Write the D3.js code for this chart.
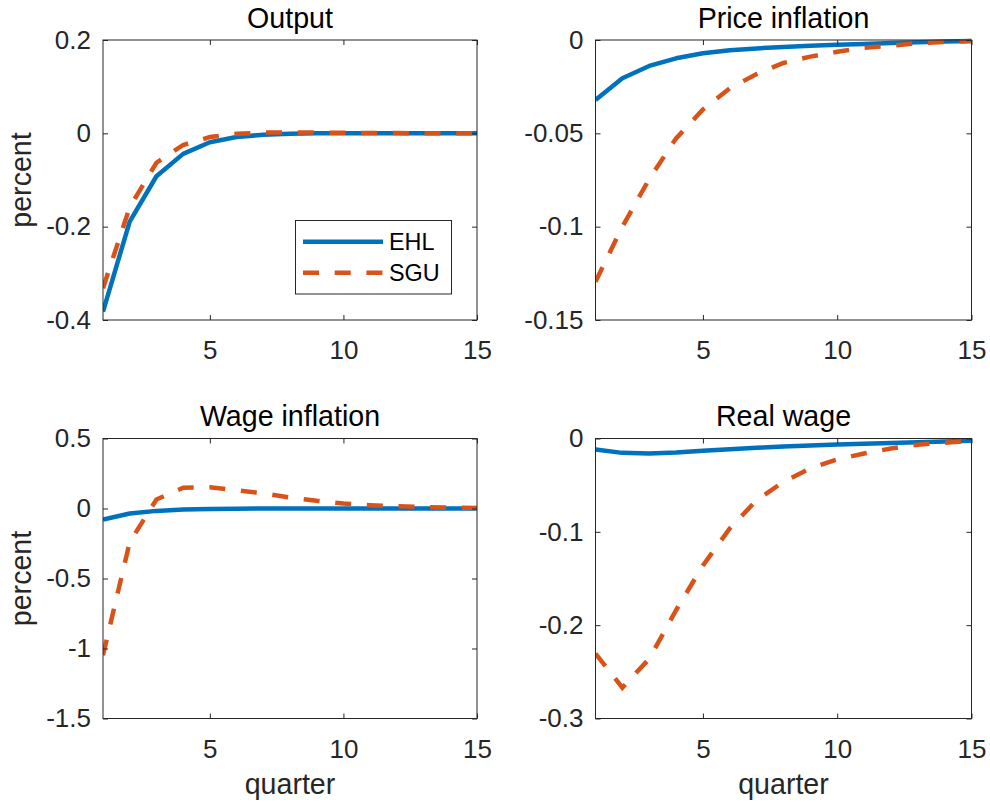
<!DOCTYPE html>
<html><head><meta charset="utf-8">
<script src="https://cdn.jsdelivr.net/npm/d3@7"></script>
<style>body{margin:0;background:#fff}svg{display:block}text{font-family:"Liberation Sans",Arial,Helvetica,sans-serif}</style>
</head><body>
<svg id="c" width="990" height="805"></svg>
<script>
const quarters = [1,2,3,4,5,6,7,8,9,10,11,12,13,14,15];
const seriesNames = ["EHL","SGU"];
const panelTitles = ["Output","Price inflation","Wage inflation","Real wage"];
const xTicks = [5,10,15];
const yTicksOutput = [-0.4,-0.2,0,0.2];
const yTicksPrice = [-0.15,-0.1,-0.05,0];
const yTicksWage = [-1.5,-1,-0.5,0,0.5];
const yTicksReal = [-0.3,-0.2,-0.1,0];

const outputEHL = [-0.382,-0.189,-0.092,-0.044,-0.019,-0.008,-0.003,-0.001,0,0,0,0,0,0,0];
const outputSGU = [-0.332,-0.158,-0.063,-0.025,-0.008,-0.001,0.0015,0.002,0.0015,0.001,0.0008,0.0005,0.0003,0.0002,0.0001];
const priceEHL = [-0.0321,-0.0205,-0.0139,-0.0098,-0.0071,-0.0055,-0.0045,-0.0037,-0.0031,-0.0026,-0.0021,-0.0016,-0.0012,-0.0008,-0.0005];
const priceSGU = [-0.1295,-0.1000,-0.0745,-0.0527,-0.0372,-0.0259,-0.0182,-0.0123,-0.0089,-0.0063,-0.0042,-0.0030,-0.0018,-0.0011,-0.0005];
const wageEHL = [-0.079,-0.036,-0.017,-0.007,-0.003,-0.001,0,0,0,0,0,0,0,0,0];
const wageSGU = [-1.048,-0.24,0.064,0.148,0.152,0.131,0.107,0.079,0.055,0.036,0.024,0.016,0.010,0.006,0.004];
const realEHL = [-0.0118,-0.0154,-0.0161,-0.0150,-0.0132,-0.0115,-0.0100,-0.0087,-0.0075,-0.0064,-0.0056,-0.0047,-0.0040,-0.0032,-0.0025];
const realSGU = [-0.2304,-0.267,-0.236,-0.184,-0.136,-0.0964,-0.066,-0.0464,-0.032,-0.0225,-0.016,-0.0107,-0.0066,-0.0046,-0.0025];

const colors = ["#0072BD","#D95319"];
const axisColor = "#262626";
const tickFont = 26, labelFont = 28.6, legendFont = 23.4;

const panels = [
  {title:panelTitles[0], ehl:outputEHL, sgu:outputSGU, domain:[-0.4,0.2], ticks:yTicksOutput, box:[103,477,40,320], ylabel:true, xlabel:false, legend:true},
  {title:panelTitles[1], ehl:priceEHL, sgu:priceSGU, domain:[-0.15,0], ticks:yTicksPrice, box:[595.5,971.5,40,320], ylabel:false, xlabel:false},
  {title:panelTitles[2], ehl:wageEHL, sgu:wageSGU, domain:[-1.5,0.5], ticks:yTicksWage, box:[103,477,438.5,718.5], ylabel:true, xlabel:true},
  {title:panelTitles[3], ehl:realEHL, sgu:realSGU, domain:[-0.3,0], ticks:yTicksReal, box:[595.5,971.5,438.5,718.5], ylabel:false, xlabel:true}
];

const svg = d3.select("#c");
const fmt = d => d === 0 ? "0" : String(+d.toFixed(2));
const tl = 5;

panels.forEach((p,i) => {
  const [x0,x1,y0,y1] = p.box;
  const x = d3.scaleLinear().domain([1,15]).range([x0,x1]);
  const y = d3.scaleLinear().domain(p.domain).range([y1,y0]);
  const g = svg.append("g");
  const clipId = "clip"+i;
  svg.append("clipPath").attr("id",clipId).append("rect")
    .attr("x",x0).attr("y",y0-3).attr("width",x1-x0).attr("height",y1-y0+6);

  // lines
  const line = d3.line().x((d,j)=>x(quarters[j])).y(d=>y(d));
  const lg = g.append("g").attr("clip-path",`url(#${clipId})`);
  lg.append("path").attr("d",line(p.ehl)).attr("fill","none")
    .attr("stroke",colors[0]).attr("stroke-width",4.5).attr("stroke-linejoin","round");
  lg.append("path").attr("d",line(p.sgu)).attr("fill","none")
    .attr("stroke",colors[1]).attr("stroke-width",4.5).attr("stroke-dasharray","16 15.7");

  // box
  g.append("rect").attr("x",x0).attr("y",y0).attr("width",x1-x0).attr("height",y1-y0)
    .attr("fill","none").attr("stroke",axisColor).attr("stroke-width",1);

  // axes
  const bottom = d3.axisBottom(x).tickValues(xTicks).tickSize(-tl).tickPadding(21).tickFormat(d3.format("d"));
  const top = d3.axisTop(x).tickValues(xTicks).tickSize(-tl).tickFormat("");
  const left = d3.axisLeft(y).tickValues(p.ticks).tickSize(-tl).tickPadding(12).tickFormat(fmt);
  const right = d3.axisRight(y).tickValues(p.ticks).tickSize(-tl).tickFormat("");
  [[bottom,`translate(0,${y1})`],[top,`translate(0,${y0})`],[left,`translate(${x0},0)`],[right,`translate(${x1},0)`]]
    .forEach(([ax,tr]) => {
      const a = g.append("g").attr("transform",tr).call(ax);
      a.select(".domain").remove();
      a.selectAll("line").attr("stroke",axisColor);
      a.selectAll("text").attr("fill",axisColor).style("font-size",tickFont+"px")
        .style("font-family",'"Liberation Sans",Arial,sans-serif');
    });

  // title
  g.append("text").attr("x",(x0+x1)/2).attr("y",y0-12.5).attr("text-anchor","middle")
    .attr("fill","#000").style("font-size",labelFont+"px").text(p.title);

  if (p.ylabel) {
    g.append("text").attr("transform",`translate(31,${(y0+y1)/2}) rotate(-90)`)
      .attr("text-anchor","middle").attr("fill",axisColor).style("font-size",labelFont+"px").text("percent");
  }
  if (p.xlabel) {
    g.append("text").attr("x",(x0+x1)/2).attr("y",794).attr("text-anchor","middle")
      .attr("fill",axisColor).style("font-size",labelFont+"px").text("quarter");
  }
  if (p.legend) {
    const lgd = g.append("g");
    lgd.append("rect").attr("x",295.5).attr("y",220.5).attr("width",156).attr("height",73.5)
      .attr("fill","#fff").attr("stroke",axisColor).attr("stroke-width",1);
    const ys = [241.7,272.7];
    seriesNames.forEach((n,k) => {
      lgd.append("line").attr("x1",303).attr("x2",383).attr("y1",ys[k]).attr("y2",ys[k])
        .attr("stroke",colors[k]).attr("stroke-width",4.5)
        .attr("stroke-dasharray",k===1?"16 15.7":null);
      lgd.append("text").attr("x",389).attr("y",ys[k]).attr("dy","0.35em")
        .attr("fill","#000").style("font-size",legendFont+"px").text(n);
    });
  }
});
</script>
</body></html>
